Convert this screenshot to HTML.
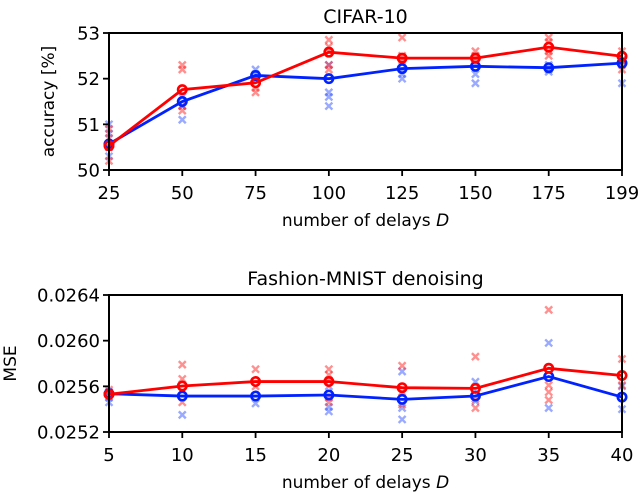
<!DOCTYPE html>
<html><head><meta charset="utf-8"><style>
body{margin:0;background:#fff}
svg{display:block;font-family:"DejaVu Sans","Liberation Sans",sans-serif}
</style></head><body>
<svg id="chart" width="640" height="496" viewBox="0 0 640 496" xmlns="http://www.w3.org/2000/svg"></svg>
<script>
// Panel 1: CIFAR-10
const cifarCats = ["25","50","75","100","125","150","175","199"];
const cifarRed = [50.53,51.76,51.91,52.58,52.45,52.45,52.69,52.49];
const cifarBlue = [50.57,51.5,52.07,52.0,52.22,52.27,52.24,52.34];
const cifarRedPts = [[50.2,50.5,50.7,50.9],[52.3,52.2,51.4,51.3],[51.7,51.8,52.0],[52.85,52.7,52.6,52.3,52.2],[52.9,52.5,52.4],[52.6,52.5,52.4],[52.9,52.8,52.6,52.5],[52.6,52.4,52.3,52.2]];
const cifarBluePts = [[51.0,50.8,50.5,50.3],[51.1,51.4,51.6],[52.2,52.1,52.0],[52.3,51.7,51.6,51.4],[52.2,52.1,52.0],[52.3,52.1,51.9],[52.3,52.2,52.15],[52.4,51.9]];
const cifarTicks = [50,51,52,53];
const cifarTickLabels = ["50","51","52","53"];
// Panel 2: Fashion-MNIST
const fmCats = ["5","10","15","20","25","30","35","40"];
const fmRed = [0.02553,0.025603,0.025642,0.025642,0.025588,0.025582,0.025758,0.025695];
const fmBlue = [0.025535,0.025515,0.025515,0.025524,0.025486,0.025515,0.025686,0.025506];
const fmRedPts = [[0.02557,0.02555,0.02553],[0.02579,0.025665,0.02546],[0.02575,0.0256],[0.02575,0.0257,0.02565,0.0255,0.02546],[0.02578,0.02555,0.02544],[0.02586,0.02549,0.02541],[0.02627,0.02561,0.02555,0.02548],[0.02584,0.02561]];
const fmBluePts = [[0.02555,0.0255,0.02546],[0.02535],[0.02545],[0.0256,0.02542,0.02538],[0.02573,0.02541,0.02531],[0.02564,0.02547],[0.02598,0.02541],[0.0256,0.0254]];
const fmTicks = [0.0252,0.0256,0.026,0.0264];
const fmTickLabels = ["0.0252","0.0256","0.0260","0.0264"];

const svg = document.getElementById('chart');
const NS = 'http://www.w3.org/2000/svg';
function mk(tag, attrs, parent){const e=document.createElementNS(NS,tag);for(const k in attrs)e.setAttribute(k,attrs[k]);(parent||svg).appendChild(e);return e;}

function panel(p){
  const g = mk('g',{});
  
  
  const L=109,R=622,T=p.top,B=p.bottom;
  const xs = i => L + i*(R-L)/(p.cats.length-1);
  const ys = v => B - (v-p.ymin)/(p.ymax-p.ymin)*(B-T);
  const drawX=(pts,color,nm)=>pts.forEach((arr,i)=>arr.forEach(v=>{
    const x=xs(i),y=ys(v),s=3.5;
    const m=mk('path',{d:`M${x-s},${y-s}L${x+s},${y+s}M${x-s},${y+s}L${x+s},${y-s}`,stroke:color,'stroke-width':2.4,'stroke-opacity':0.5,fill:'none'},g);
    
    
  }));
  drawX(p.bluePts,'#3355ff','blue-run-marker');
  drawX(p.redPts,'#ff2222','red-run-marker');
  const drawLine=(vals,color,nm)=>{
    const l=mk('polyline',{points:vals.map((v,i)=>xs(i)+','+ys(v)).join(' '),fill:'none',stroke:color,'stroke-width':2.8},g);
    
    
    vals.forEach((v,i)=>{
      const c=mk('circle',{cx:xs(i),cy:ys(v),r:4.2,fill:'none',stroke:color,'stroke-width':2.6},g);
      
      
    });
  };
  drawLine(p.blue,'#0022ff','blue-mean-line');
  drawLine(p.red,'#ff0000','red-mean-line');
  const f=mk('rect',{x:L,y:T,width:R-L,height:B-T,fill:'none',stroke:'#000','stroke-width':2},g);
  
  
  p.cats.forEach((c,i)=>{
    mk('line',{x1:xs(i),x2:xs(i),y1:B,y2:B+6,stroke:'#000','stroke-width':1.8},g);
    const t=mk('text',{x:xs(i),y:B+29,'text-anchor':'middle','font-size':18},g);
    t.textContent=c;
    
    
  });
  p.ticks.forEach((v,i)=>{
    mk('line',{x1:L-6,x2:L,y1:ys(v),y2:ys(v),stroke:'#000','stroke-width':1.8},g);
    const t=mk('text',{x:L-9,y:ys(v)+6.5,'text-anchor':'end','font-size':18},g);
    t.textContent=p.tickLabels[i];
    
    
  });
  const ti=mk('text',{x:(L+R)/2,y:T-10,'text-anchor':'middle','font-size':19},g);
  ti.textContent=p.title;
  
  
  const xl=mk('text',{x:(L+R)/2,y:B+56,'text-anchor':'middle','font-size':17},g);
  xl.innerHTML='number of delays <tspan font-style="italic">D</tspan>';
  
  
  const yl=mk('text',{x:p.ylx,y:(T+B)/2,'text-anchor':'middle','font-size':17,transform:`rotate(-90 ${p.ylx} ${(T+B)/2})`},g);
  yl.textContent=p.ylabel;
  
  
}
panel({name:'cifar10-panel',title:'CIFAR-10',top:33,bottom:170,ymin:50,ymax:53,cats:cifarCats,red:cifarRed,blue:cifarBlue,redPts:cifarRedPts,bluePts:cifarBluePts,ticks:cifarTicks,tickLabels:cifarTickLabels,ylabel:'accuracy [%]',ylx:54});
panel({name:'fashion-mnist-panel',title:'Fashion-MNIST denoising',top:295,bottom:432,ymin:0.0252,ymax:0.0264,cats:fmCats,red:fmRed,blue:fmBlue,redPts:fmRedPts,bluePts:fmBluePts,ticks:fmTicks,tickLabels:fmTickLabels,ylabel:'MSE',ylx:16});
</script>
</body></html>
